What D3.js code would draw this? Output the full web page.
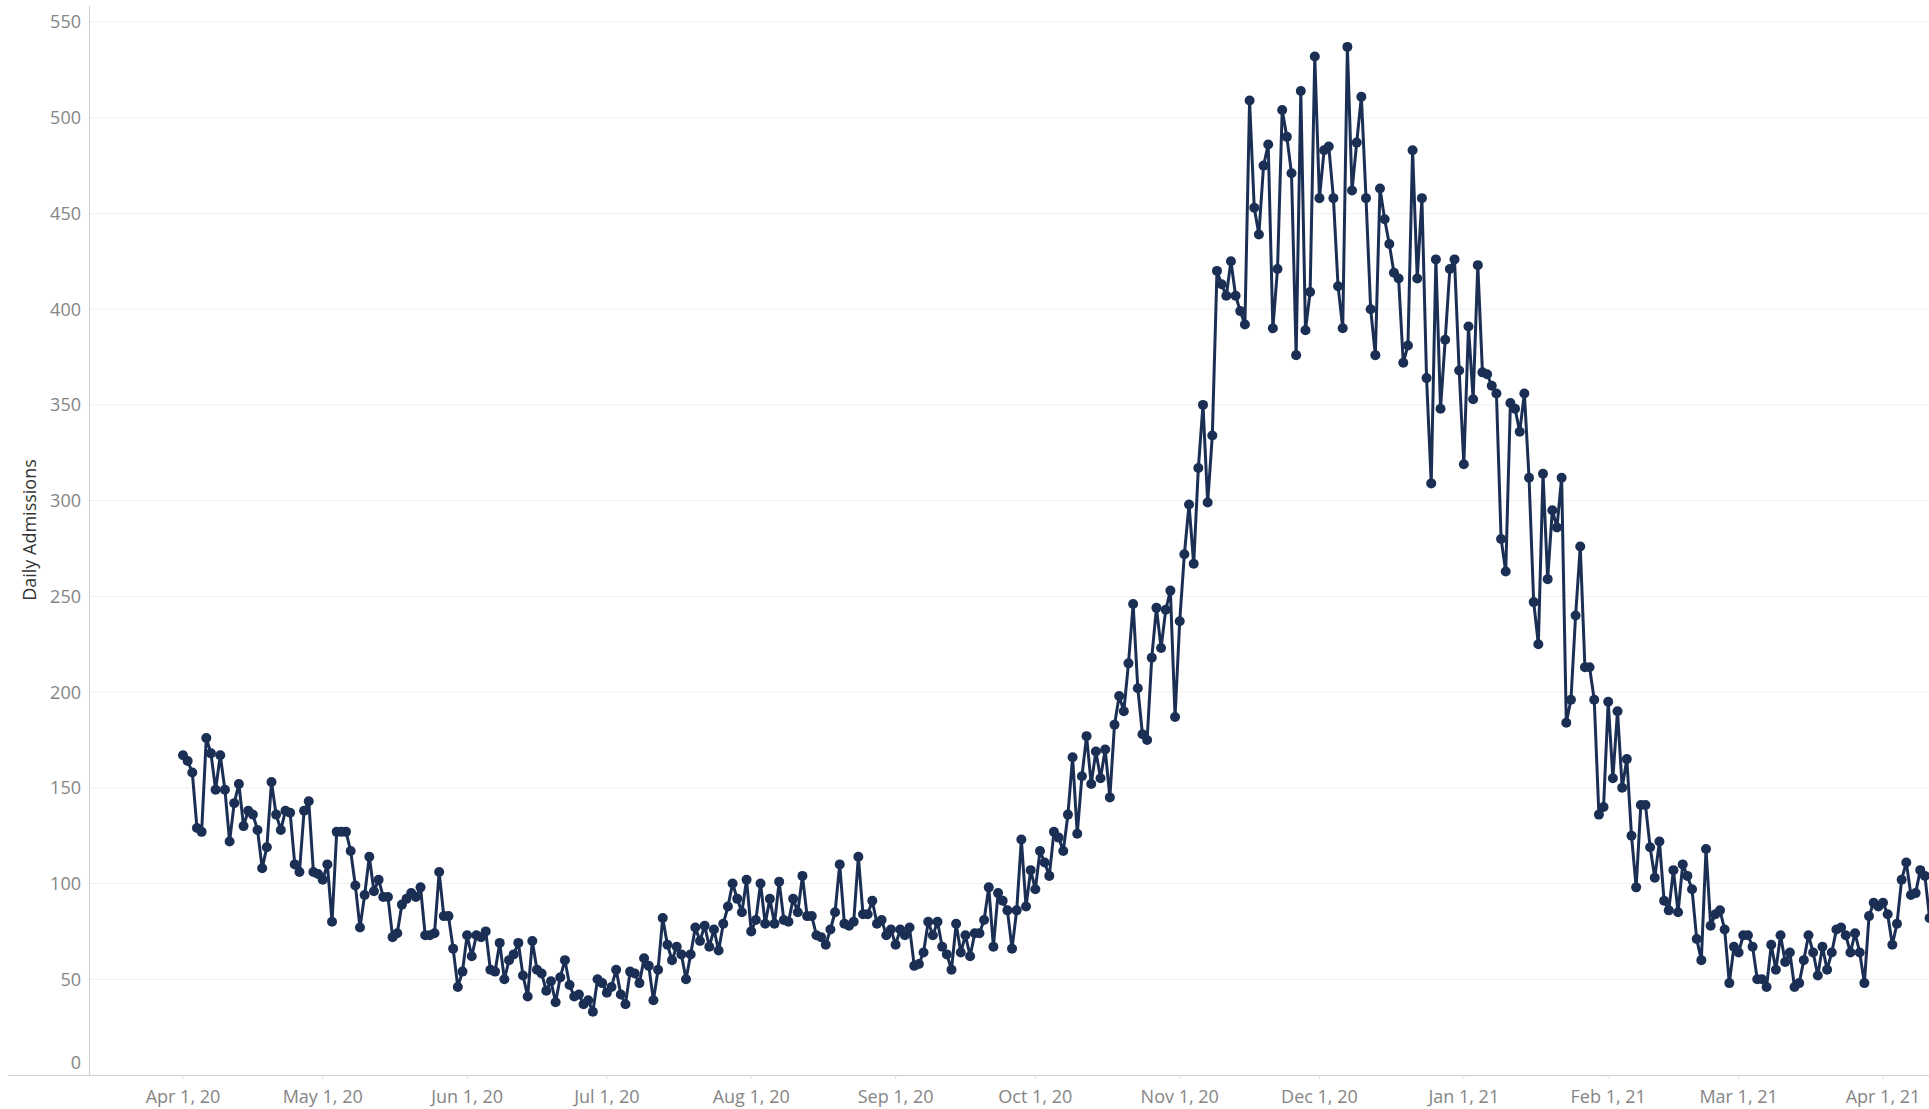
<!DOCTYPE html>
<html>
<head>
<meta charset="utf-8">
<script src="https://cdn.jsdelivr.net/npm/d3@7"></script>
<style>
  html, body { margin: 0; padding: 0; background: #fff; }
  svg { display: block; }
</style>
</head>
<body>
<svg id="chart" width="1929" height="1109"></svg>
<script>
// ---- data ----
const startDate = "2020-04-01";           // first day of the daily series
const dailyAdmissions = [
  167,164,158,129,127,176,168,149,167,149,122,142,152,130,138,136,128,108,119,153,
  136,128,138,137,110,106,138,143,106,105,102,110,80,127,127,127,117,99,77,94,
  114,96,102,93,93,72,74,89,92,95,93,98,73,73,74,106,83,83,66,46,
  54,73,62,73,72,75,55,54,69,50,60,63,69,52,41,70,55,53,44,49,
  38,51,60,47,41,42,37,39,33,50,48,43,46,55,42,37,54,53,48,61,
  57,39,55,82,68,60,67,63,50,63,77,70,78,67,76,65,79,88,100,92,
  85,102,75,81,100,79,92,79,101,81,80,92,85,104,83,83,73,72,68,76,
  85,110,79,78,80,114,84,84,91,79,81,73,76,68,76,73,77,57,58,64,
  80,73,80,67,63,55,79,64,73,62,74,74,81,98,67,95,91,86,66,86,
  123,88,107,97,117,111,104,127,124,117,136,166,126,156,177,152,169,155,170,145,
  183,198,190,215,246,202,178,175,218,244,223,243,253,187,237,272,298,267,317,350,
  299,334,420,413,407,425,407,399,392,509,453,439,475,486,390,421,504,490,471,376,
  514,389,409,532,458,483,485,458,412,390,537,462,487,511,458,400,376,463,447,434,
  419,416,372,381,483,416,458,364,309,426,348,384,421,426,368,319,391,353,423,367,
  366,360,356,280,263,351,348,336,356,312,247,225,314,259,295,286,312,184,196,240,
  276,213,213,196,136,140,195,155,190,150,165,125,98,141,141,119,103,122,91,86,
  107,85,110,104,97,71,60,118,78,84,86,76,48,67,64,73,73,67,50,50,
  46,68,55,73,59,64,46,48,60,73,64,52,67,55,64,76,77,73,64,74,
  64,48,83,90,88,90,84,68,79,102,111,94,95,107,104,82
];
const yTicks = [0,50,100,150,200,250,300,350,400,450,500,550];
const xTickDates = [
  "2020-04-01","2020-05-01","2020-06-01","2020-07-01","2020-08-01","2020-09-01",
  "2020-10-01","2020-11-01","2020-12-01","2021-01-01","2021-02-01","2021-03-01","2021-04-01"
];
const yTitle = "Daily Admissions";

// ---- build ----
const parse = d3.utcParse("%Y-%m-%d");
const t0 = parse(startDate);
const series = dailyAdmissions.map((v, i) => ({ date: d3.utcDay.offset(t0, i), value: v }));

const W = 1929, H = 1109;
const svg = d3.select("#chart");
const font = "'Open Sans', 'DejaVu Sans', sans-serif";

const x = d3.scaleUtc()
  .domain([parse("2020-04-01"), parse("2021-04-01")])
  .range([183, 1883]);
const y = d3.scaleLinear().domain([0, 550]).range([1075, 22]);

const plotLeft = 89, plotTop = 6;

// gridlines
svg.append("g")
  .selectAll("line")
  .data(yTicks.filter(d => d > 0))
  .join("line")
  .attr("x1", plotLeft).attr("x2", W)
  .attr("y1", d => y(d)).attr("y2", d => y(d))
  .attr("stroke", "#efefef").attr("stroke-width", 1);

// y axis line
svg.append("line")
  .attr("x1", plotLeft + 0.5).attr("x2", plotLeft + 0.5)
  .attr("y1", plotTop).attr("y2", y(0))
  .attr("stroke", "#cfcfcf").attr("stroke-width", 1);

// x axis line
svg.append("line")
  .attr("x1", 8).attr("x2", W)
  .attr("y1", y(0) + 0.5).attr("y2", y(0) + 0.5)
  .attr("stroke", "#cfcfcf").attr("stroke-width", 1);

// y tick labels
svg.append("g")
  .selectAll("text")
  .data(yTicks)
  .join("text")
  .attr("x", 81)
  .attr("y", d => d === 0 ? y(d) - 12 : y(d))
  .attr("dy", "0.36em")
  .attr("text-anchor", "end")
  .attr("font-family", font)
  .attr("font-size", 18)
  .attr("fill", "#858585")
  .text(d => d);

// x ticks + labels
const fmt = d3.utcFormat("%b %-d, %y");
const xt = svg.append("g")
  .selectAll("g")
  .data(xTickDates.map(parse))
  .join("g")
  .attr("transform", d => `translate(${x(d)},0)`);
xt.append("line")
  .attr("y1", y(0)).attr("y2", y(0) + 4)
  .attr("stroke", "#e0e0e0");
xt.append("text")
  .attr("y", 1097)
  .attr("dy", "0.36em")
  .attr("text-anchor", "middle")
  .attr("font-family", font)
  .attr("font-size", 18)
  .attr("fill", "#858585")
  .text(d => fmt(d));

// y title
svg.append("text")
  .attr("transform", `translate(30,${530}) rotate(-90)`)
  .attr("text-anchor", "middle")
  .attr("dy", "0.36em")
  .attr("font-family", font)
  .attr("font-size", 18)
  .attr("fill", "#333")
  .text(yTitle);

// line + dots
const color = "#1b2f55";
svg.append("path")
  .datum(series)
  .attr("fill", "none")
  .attr("stroke", color)
  .attr("stroke-width", 3)
  .attr("stroke-linejoin", "round")
  .attr("d", d3.line().x(d => x(d.date)).y(d => y(d.value)));

svg.append("g")
  .selectAll("circle")
  .data(series)
  .join("circle")
  .attr("cx", d => x(d.date))
  .attr("cy", d => y(d.value))
  .attr("r", 5)
  .attr("fill", color);
</script>
</body>
</html>
